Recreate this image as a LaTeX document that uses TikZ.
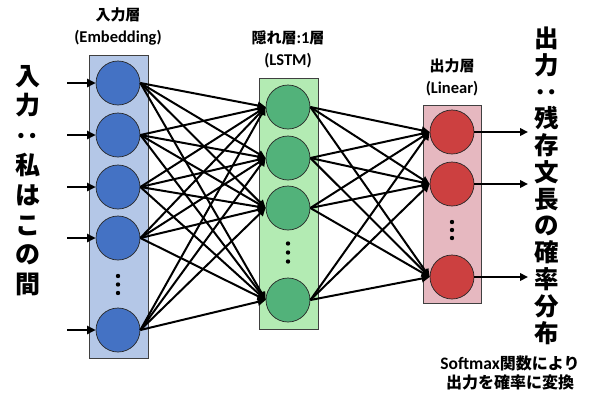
\documentclass[tikz,border=0pt]{standalone}
\usepackage{fontspec}
\usetikzlibrary{arrows.meta}
\newfontfamily\jpfont{Noto Sans CJK JP}
\newfontfamily\latfont{Carlito}[BoldFont={Carlito Bold}]

\definecolor{embfill}{HTML}{B4C7E7}
\definecolor{embunit}{HTML}{4472C4}
\definecolor{lstmfill}{HTML}{B3EBB3}
\definecolor{lstmunit}{HTML}{52B27A}
\definecolor{linfill}{HTML}{E6B8C0}
\definecolor{linunit}{HTML}{CC4040}

\newcommand{\latbig}{\latfont\bfseries\fontsize{16.5}{22.5}\selectfont}

\tikzset{
  layerbox/.style={draw=black!75, line width=0.9pt},
  unit/.style={circle, draw=black!85, line width=0.7pt, minimum size=44pt, inner sep=0pt},
  link/.style={line width=2pt, -{Triangle[length=8pt,width=7.5pt]}},
  feed/.style={line width=2.4pt, -{Triangle[length=8.5pt,width=8pt]}},
  layerlabel/.style={align=center, inner sep=0pt, font=\bfseries\fontsize{15}{22.5}\selectfont},
  sidetext/.style={align=center, inner sep=0pt},
  dot/.style={fill=black}
}

\begin{document}
\begin{tikzpicture}[x=1pt, y=-1pt]
\useasboundingbox (0,0) rectangle (590,392);

% layer containers
\draw[layerbox, fill=embfill]  (89,55)  rectangle (148,358);
\draw[layerbox, fill=lstmfill] (259,78) rectangle (318,329);
\draw[layerbox, fill=linfill]  (423,105) rectangle (481,303);

% embedding units
\foreach \n/\y in {1/83, 2/135, 3/187, 4/238, 5/330}
  \node[unit, fill=embunit] (i\n) at (118,\y) {};
% LSTM units
\foreach \n/\y in {1/107, 2/158, 3/208, 4/300}
  \node[unit, fill=lstmunit] (h\n) at (288,\y) {};
% linear units
\foreach \n/\y in {1/132, 2/184, 3/277}
  \node[unit, fill=linunit] (o\n) at (452,\y) {};

% vertical ellipses inside the layers
\foreach \y in {276,284.5,293} \fill[dot] (118,\y) circle (2.2);
\foreach \y in {243.5,252.5,261.5} \fill[dot] (288,\y) circle (2.2);
\foreach \y in {222,230,238} \fill[dot] (452,\y) circle (2.2);

% inputs
\foreach \n/\y in {1/83, 2/135, 3/187, 4/238, 5/330} {
  \coordinate (in\n) at (67,\y);
  \draw[feed] (in\n) -- (i\n.west);
}

% full connections
\foreach \a in {1,...,5}
  \foreach \b in {1,...,4}
    \draw[link] (i\a.east) -- (h\b.west);
\foreach \a in {1,...,4}
  \foreach \b in {1,...,3}
    \draw[link] (h\a.east) -- (o\b.west);

% outputs
\foreach \n/\y in {1/132, 2/184, 3/277} {
  \coordinate (out\n) at (528,\y);
  \draw[link] (o\n.east) -- (out\n);
}

% layer titles
\node[layerlabel] (lblemb) at (118,26.5) {{\jpfont 入力層}\\{\latbig (Embedding)}};
\node[layerlabel] (lbllstm) at (288,49.5) {{\jpfont 隠れ層}{\latbig :1}{\jpfont 層}\\{\latbig (LSTM)}};
\node[layerlabel] (lbllin) at (452,77.5) {{\jpfont 出力層}\\{\latbig (Linear)}};

% vertical captions
\node[sidetext, font=\jpfont\bfseries\fontsize{25}{29.8}\selectfont] (intext) at (28,180.5)
  {入\\力\\\rotatebox[origin=c]{90}{：}\\私\\は\\こ\\の\\間};
\node[sidetext, font=\jpfont\bfseries\fontsize{24.5}{26.8}\selectfont] (outtext) at (547,185.5)
  {出\\力\\\rotatebox[origin=c]{90}{：}\\残\\存\\文\\長\\の\\確\\率\\分\\布};

% note below the output
\node[align=center, inner sep=0pt, font=\bfseries\fontsize{16}{19}\selectfont] (note) at (510,372.5)
  {{\latfont\bfseries\fontsize{17.5}{19}\selectfont Softmax}{\jpfont 関数により}\\{\jpfont 出力を確率に変換}};
\end{tikzpicture}
\end{document}
